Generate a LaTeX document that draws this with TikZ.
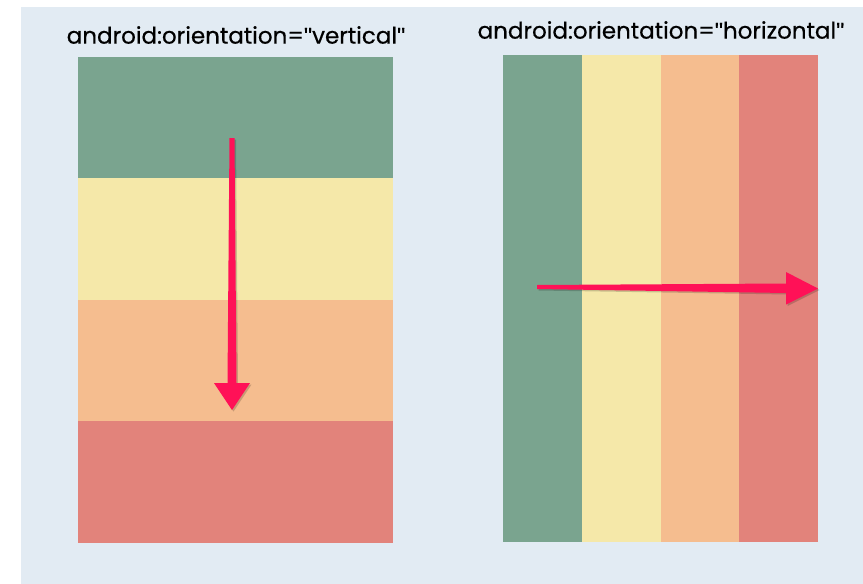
\documentclass[tikz,border=0pt]{standalone}
\usepackage{fontspec}
\setmainfont{Poppins}
\newfontfamily\titlefont{Poppins}[FakeBold=0.5]
\newfontfamily\quotefont{Liberation Sans}[FakeBold=0.5]
\newcommand{\dq}{{\quotefont\symbol{"22}}}
\definecolor{panelblue}{HTML}{E2EBF3}
\definecolor{bandgreen}{HTML}{7AA48F}
\definecolor{bandyellow}{HTML}{F5E8A9}
\definecolor{bandorange}{HTML}{F5BD8F}
\definecolor{bandred}{HTML}{E2837B}
\definecolor{arrowpink}{HTML}{FF1157}
\begin{document}
\begin{tikzpicture}[x=1pt,y=-1pt,
  band/.style={draw=none,inner sep=0pt,outer sep=0pt,anchor=north west},
  hband/.style={band,minimum width=315pt,minimum height=121.5pt},
  vband/.style={band,minimum width=78.75pt,minimum height=487pt},
  title/.style={font=\titlefont\fontsize{23}{27}\selectfont,text=black,inner sep=0pt},
  pointer/.style={fill=arrowpink,draw=none},
  pointershadow/.style={fill=black,opacity=0.18,draw=none}]
  % canvas and panel
  \fill[white] (0,0) rectangle (863,584);
  \useasboundingbox (0,0) rectangle (863,584);
  \fill[panelblue] (21,7) rectangle (863,584);

  % vertical layout: stacked rows
  \node[title] (tv) at (236,35) {android:orientation=\dq vertical\dq};
  \node[hband,fill=bandgreen]  (v1) at (78,56.5) {};
  \node[hband,fill=bandyellow] (v2) at (78,178) {};
  \node[hband,fill=bandorange] (v3) at (78,299.5) {};
  \node[hband,fill=bandred]    (v4) at (78,421) {};

  % horizontal layout: side-by-side columns
  \node[title] (th) at (661,30) {android:orientation=\dq horizontal\dq};
  \node[vband,fill=bandgreen]  (h1) at (503,55) {};
  \node[vband,fill=bandyellow] (h2) at (581.75,55) {};
  \node[vband,fill=bandorange] (h3) at (660.5,55) {};
  \node[vband,fill=bandred]    (h4) at (739.25,55) {};

  % downward pointer
  \coordinate (vs) at (232,138);
  \coordinate (ve) at (232,410);
  \fill[pointershadow,shift={(1.5,1.5)}]
    (229.5,138) -- (234.5,138) -- (236.5,383) -- (250,383) -- (232,410)
    -- (214,383) -- (227.5,383) -- cycle;
  \fill[pointer]
    (229.5,138) -- (234.5,138) -- (236.5,383) -- (250,383) -- (ve)
    -- (214,383) -- (227.5,383) -- cycle;

  % rightward pointer
  \coordinate (hs) at (537,287);
  \coordinate (he) at (818,288.5);
  \fill[pointershadow,shift={(1.5,1.5)}]
    (537,285) -- (786,283.5) -- (786,272) -- (818,288.5) -- (786,304.5)
    -- (786,293) -- (537,289) -- cycle;
  \fill[pointer]
    (537,285) -- (786,283.5) -- (786,272) -- (he) -- (786,304.5)
    -- (786,293) -- (537,289) -- cycle;
\end{tikzpicture}
\end{document}
